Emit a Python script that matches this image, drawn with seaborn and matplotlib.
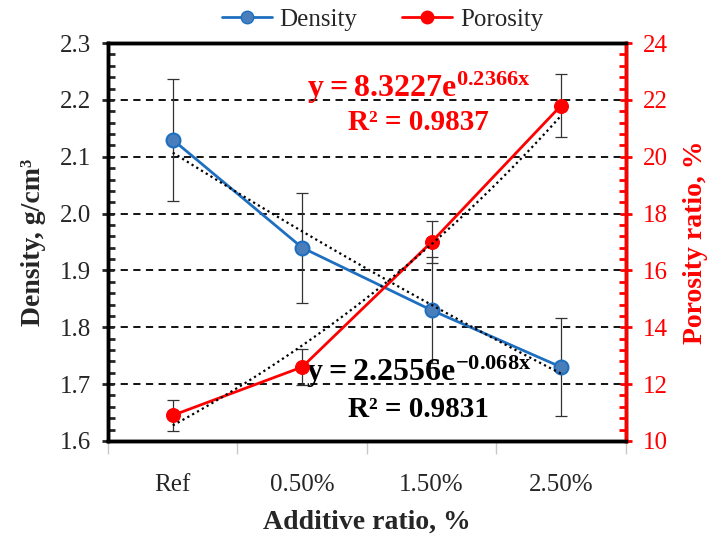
import numpy as np
import pandas as pd
import matplotlib
matplotlib.use("Agg")
import matplotlib.pyplot as plt
import seaborn as sns
from matplotlib.lines import Line2D
from matplotlib.ticker import MultipleLocator

# ─── Dados ───────────────────────────────────────────────
categorias = ["Ref", "0.50%", "1.50%", "2.50%"]
densidade = [2.13, 1.94, 1.83, 1.73]
densidade_err = [0.107, 0.097, 0.093, 0.087]
porosidade = [10.9, 12.6, 17.0, 21.8]
porosidade_err = [0.55, 0.65, 0.75, 1.1]

# coeficientes das linhas de tendência (exponencial, x = 1..4)
dens_a, dens_b = 2.2556, -0.068
poro_a, poro_b = 8.3227, 0.2366

AZUL = "#1F6FC0"
AZUL_MARK = "#4A7EBB"
VERMELHO = "#FF0000"

sns.set_style("ticks")
plt.rcParams["font.family"] = ["Liberation Serif", "DejaVu Serif"]
plt.rcParams["mathtext.fontset"] = "custom"
plt.rcParams["mathtext.rm"] = "Liberation Serif"
plt.rcParams["mathtext.bf"] = "Liberation Serif:bold"

df = pd.DataFrame({"x": np.arange(len(categorias)), "dens": densidade, "poro": porosidade})

fig = plt.figure(figsize=(7.11, 5.39), dpi=100)
ax = fig.add_axes([0.152, 0.182, 0.728, 0.738])
ax2 = ax.twinx()

# ── grade tracejada ──
for v in [1.7, 1.8, 1.9, 2.0, 2.1, 2.2]:
    ax.axhline(v, color="black", ls=(0, (4, 3)), lw=1.3, zorder=0)

# ── densidade ──
ax.errorbar(df["x"], df["dens"], yerr=densidade_err, fmt="none", ecolor="#333333",
            elinewidth=0.9, capsize=4, capthick=0.9, zorder=2)
sns.lineplot(data=df, x="x", y="dens", ax=ax, color=AZUL, lw=2, marker="o", markersize=10,
             markerfacecolor=AZUL_MARK, markeredgecolor=AZUL, markeredgewidth=1.5, zorder=3)
xt = np.linspace(0, 3, 50)
ax.plot(xt, dens_a * np.exp(dens_b * (xt + 1)), color="black", ls=(0, (1, 1.5)), lw=1.6, zorder=4)

# ── porosidade ──
ax2.errorbar(df["x"], df["poro"], yerr=porosidade_err, fmt="none", ecolor="#333333",
             elinewidth=0.9, capsize=4, capthick=0.9, zorder=2)
sns.lineplot(data=df, x="x", y="poro", ax=ax2, color=VERMELHO, lw=2, marker="o", markersize=10,
             markerfacecolor=VERMELHO, markeredgecolor=VERMELHO, zorder=3)
ax2.plot(xt, poro_a * np.exp(poro_b * (xt + 1)), color="black", ls=(0, (1, 1.5)), lw=1.6, zorder=4)

# ── eixos ──
ax.set_xlim(-0.5, 3.5)
ax.set_ylim(1.6, 2.3)
ax2.set_ylim(10, 24)

ax.set_xticks(np.arange(-0.5, 4, 1))
ax.set_xticklabels([])
ax.set_xticks(np.arange(len(categorias)), minor=True)
ax.set_xticklabels(categorias, minor=True, fontsize=18)
ax.tick_params(axis="x", which="major", direction="out", length=9, color="#C8C8C8", width=1)
ax.tick_params(axis="x", which="minor", length=0, pad=24)

ax.yaxis.set_major_locator(MultipleLocator(0.1))
ax.yaxis.set_minor_locator(MultipleLocator(0.02))
ax.set_yticks(np.round(np.arange(1.6, 2.31, 0.1), 1))
ax.set_yticklabels([f"{v:.1f}" for v in np.arange(1.6, 2.31, 0.1)], fontsize=18)
ax.tick_params(axis="y", which="major", direction="inout", length=9, width=2, pad=8)
ax.tick_params(axis="y", which="minor", direction="in", length=5, width=2)

ax2.yaxis.set_major_locator(MultipleLocator(2))
ax2.yaxis.set_minor_locator(MultipleLocator(0.4))
ax2.tick_params(axis="y", which="major", direction="inout", length=9, width=2,
                colors=VERMELHO, labelsize=18, pad=8)
ax2.tick_params(axis="y", which="minor", direction="in", length=5, width=2, color=VERMELHO)

for a in (ax, ax2):
    for s in a.spines.values():
        s.set_linewidth(2.5)
        s.set_color("black")
ax2.spines["right"].set_color(VERMELHO)

ax.set_xlabel("Additive ratio, %", fontsize=20, fontweight="bold", labelpad=10)
ax.set_ylabel("Density, g/cm³", fontsize=20, fontweight="bold", labelpad=10)
ax2.set_ylabel("Porosity ratio, %", fontsize=20, fontweight="bold", color=VERMELHO, labelpad=11)

# ── equações ──
ax.text(1.9, 2.222, r"$\mathbf{y = 8.3227e^{0.2366x}}$", color=VERMELHO, fontsize=23,
        ha="center", va="center", zorder=6)
ax.text(1.9, 2.16, "R² = 0.9837", color=VERMELHO, fontsize=21, fontweight="bold",
        ha="center", va="center", zorder=6)
ax.text(1.9, 1.722, r"$\mathbf{y = 2.2556e^{-0.068x}}$", color="black", fontsize=23,
        ha="center", va="center", zorder=6)
ax.text(1.9, 1.656, "R² = 0.9831", color="black", fontsize=21, fontweight="bold",
        ha="center", va="center", zorder=6)

# ── legenda ──
handles = [
    Line2D([], [], color=AZUL, lw=2, marker="o", markersize=9, markerfacecolor=AZUL_MARK,
           markeredgecolor=AZUL),
    Line2D([], [], color=VERMELHO, lw=2, marker="o", markersize=9, markerfacecolor=VERMELHO),
]
fig.legend(handles, ["Density", "Porosity"], loc="center", bbox_to_anchor=(0.538, 0.963),
           ncol=2, frameon=False, fontsize=18, handlelength=2, columnspacing=1.8,
           handletextpad=0.3)
if ax.get_legend():
    ax.get_legend().remove()

fig.savefig("out.png", dpi=100)
